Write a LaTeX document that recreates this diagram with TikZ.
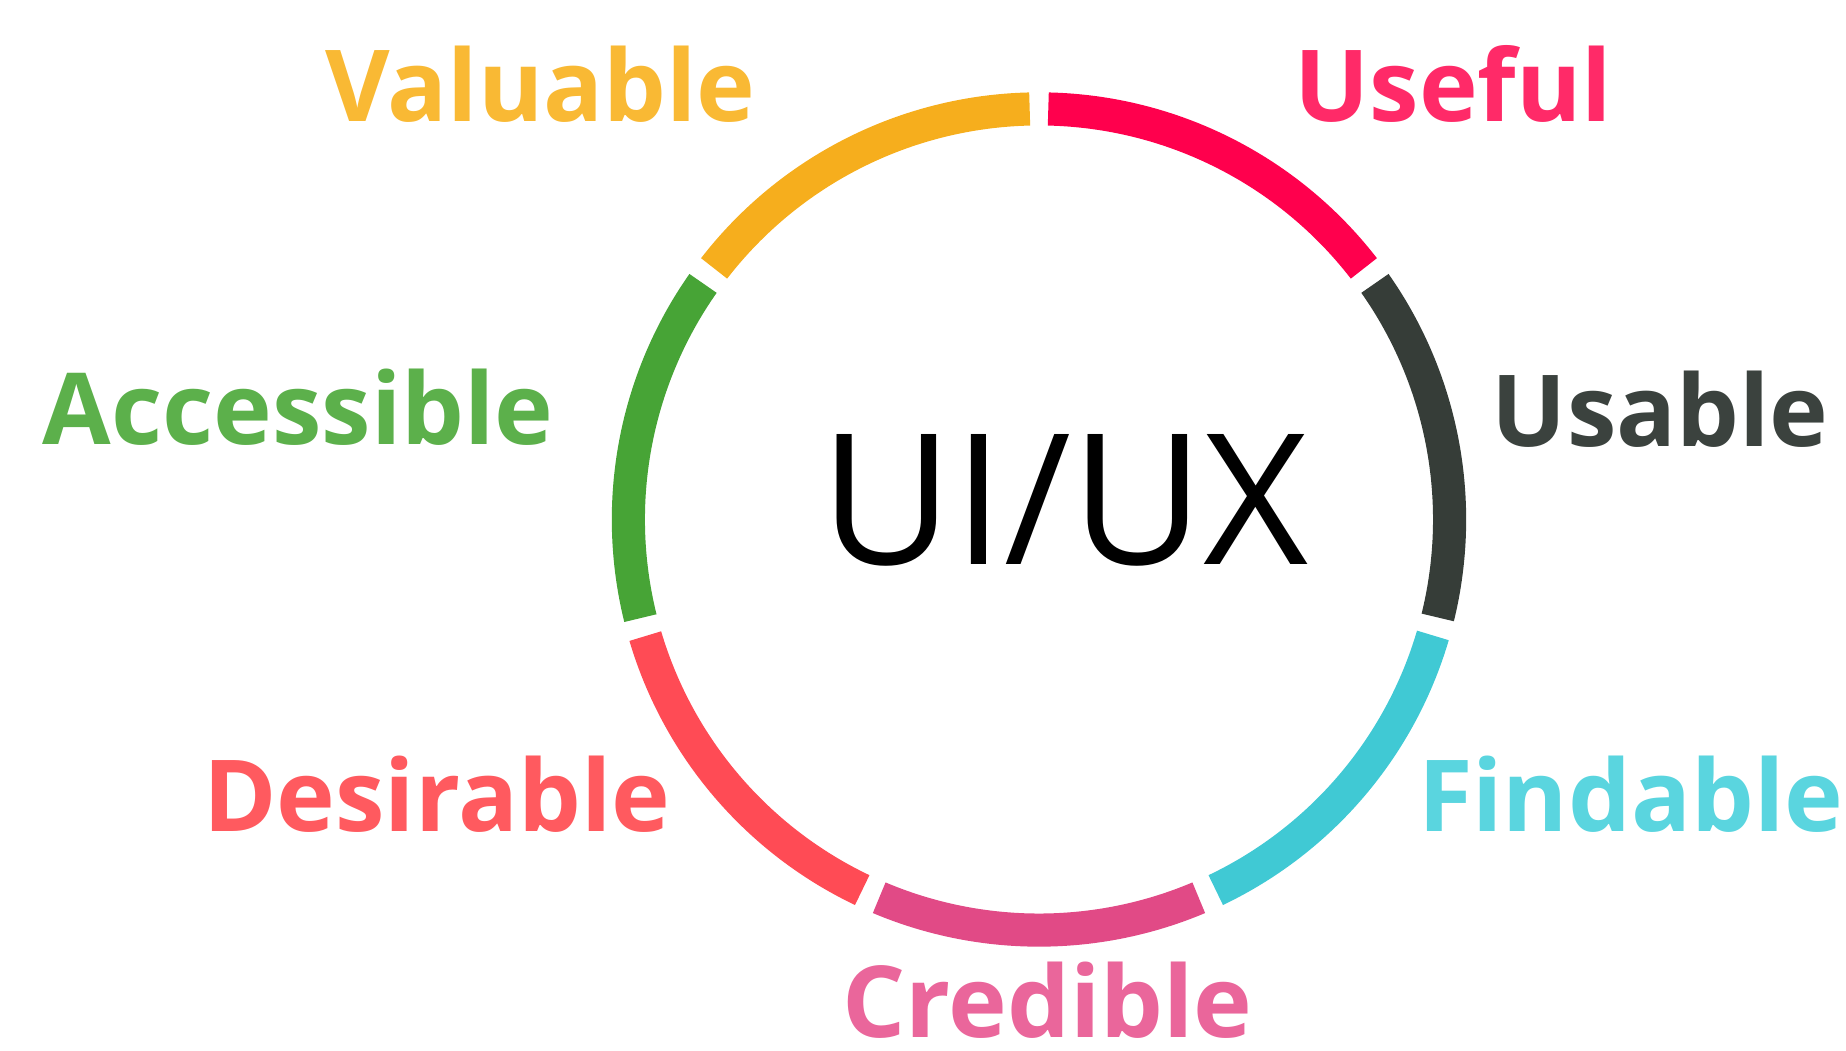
\documentclass[tikz,border=0pt]{standalone}
\usepackage{fontspec}
\setmainfont{Open Sans}
\usetikzlibrary{positioning}
\definecolor{valarc}{HTML}{F6AE1D}
\definecolor{valtxt}{HTML}{F9B934}
\definecolor{usfarc}{HTML}{FF004D}
\definecolor{usftxt}{HTML}{FF2A68}
\definecolor{usbarc}{HTML}{363D38}
\definecolor{usbtxt}{HTML}{3B423E}
\definecolor{fndarc}{HTML}{40C9D4}
\definecolor{fndtxt}{HTML}{5AD5DF}
\definecolor{crdarc}{HTML}{E14A86}
\definecolor{crdtxt}{HTML}{EA669B}
\definecolor{desarc}{HTML}{FF4B55}
\definecolor{destxt}{HTML}{FF5A5F}
\definecolor{accarc}{HTML}{47A436}
\definecolor{acctxt}{HTML}{5CB04B}
\tikzset{
  seg/.style = {line width=0.28cm},
  lbl/.style = {anchor=base, inner sep=0pt, font=\fontsize{23.9}{28}\selectfont\bfseries}
}

\begin{document}
\begin{tikzpicture}
\useasboundingbox (0,0) rectangle (15.6,8.88);
\def\ctr{(8.78,4.49)}
\def\rad{3.47}
\draw[seg, valarc] \ctr ++(91.3:\rad) arc [start angle=91.3, end angle=142.3, radius=\rad];
\draw[seg, accarc] \ctr ++(144.9:\rad) arc [start angle=144.9, end angle=193.9, radius=\rad];
\draw[seg, desarc] \ctr ++(196.5:\rad) arc [start angle=196.5, end angle=244.5, radius=\rad];
\draw[seg, crdarc] \ctr ++(247.1:\rad) arc [start angle=247.1, end angle=292.9, radius=\rad];
\draw[seg, fndarc] \ctr ++(295.5:\rad) arc [start angle=295.5, end angle=343.6, radius=\rad];
\draw[seg, usbarc] \ctr ++(346.2:\rad) arc [start angle=346.2, end angle=395.1, radius=\rad];
\draw[seg, usfarc] \ctr ++(37.7:\rad) arc [start angle=37.7, end angle=88.7, radius=\rad];
\node (uiux) [anchor=base, inner sep=0pt, font=\fontsize{43.8}{50}\selectfont] at (9.0,4.11) {UI/UX};
\node (valuable) [lbl, valtxt] at (4.565,7.85) {Valuable};
\node (useful) [lbl, usftxt] at (12.28,7.85) {Useful};
\node (usable) [lbl, usbtxt] at (14.03,5.11) {Usable};
\node (accessible) [lbl, acctxt] at (2.52,5.12) {Accessible};
\node (desirable) [lbl, destxt] at (3.69,1.85) {Desirable};
\node (findable) [lbl, fndtxt] at (13.78,1.85) {Findable};
\node (credible) [lbl, crdtxt] at (8.85,0.11) {Credible};
\end{tikzpicture}
\end{document}
